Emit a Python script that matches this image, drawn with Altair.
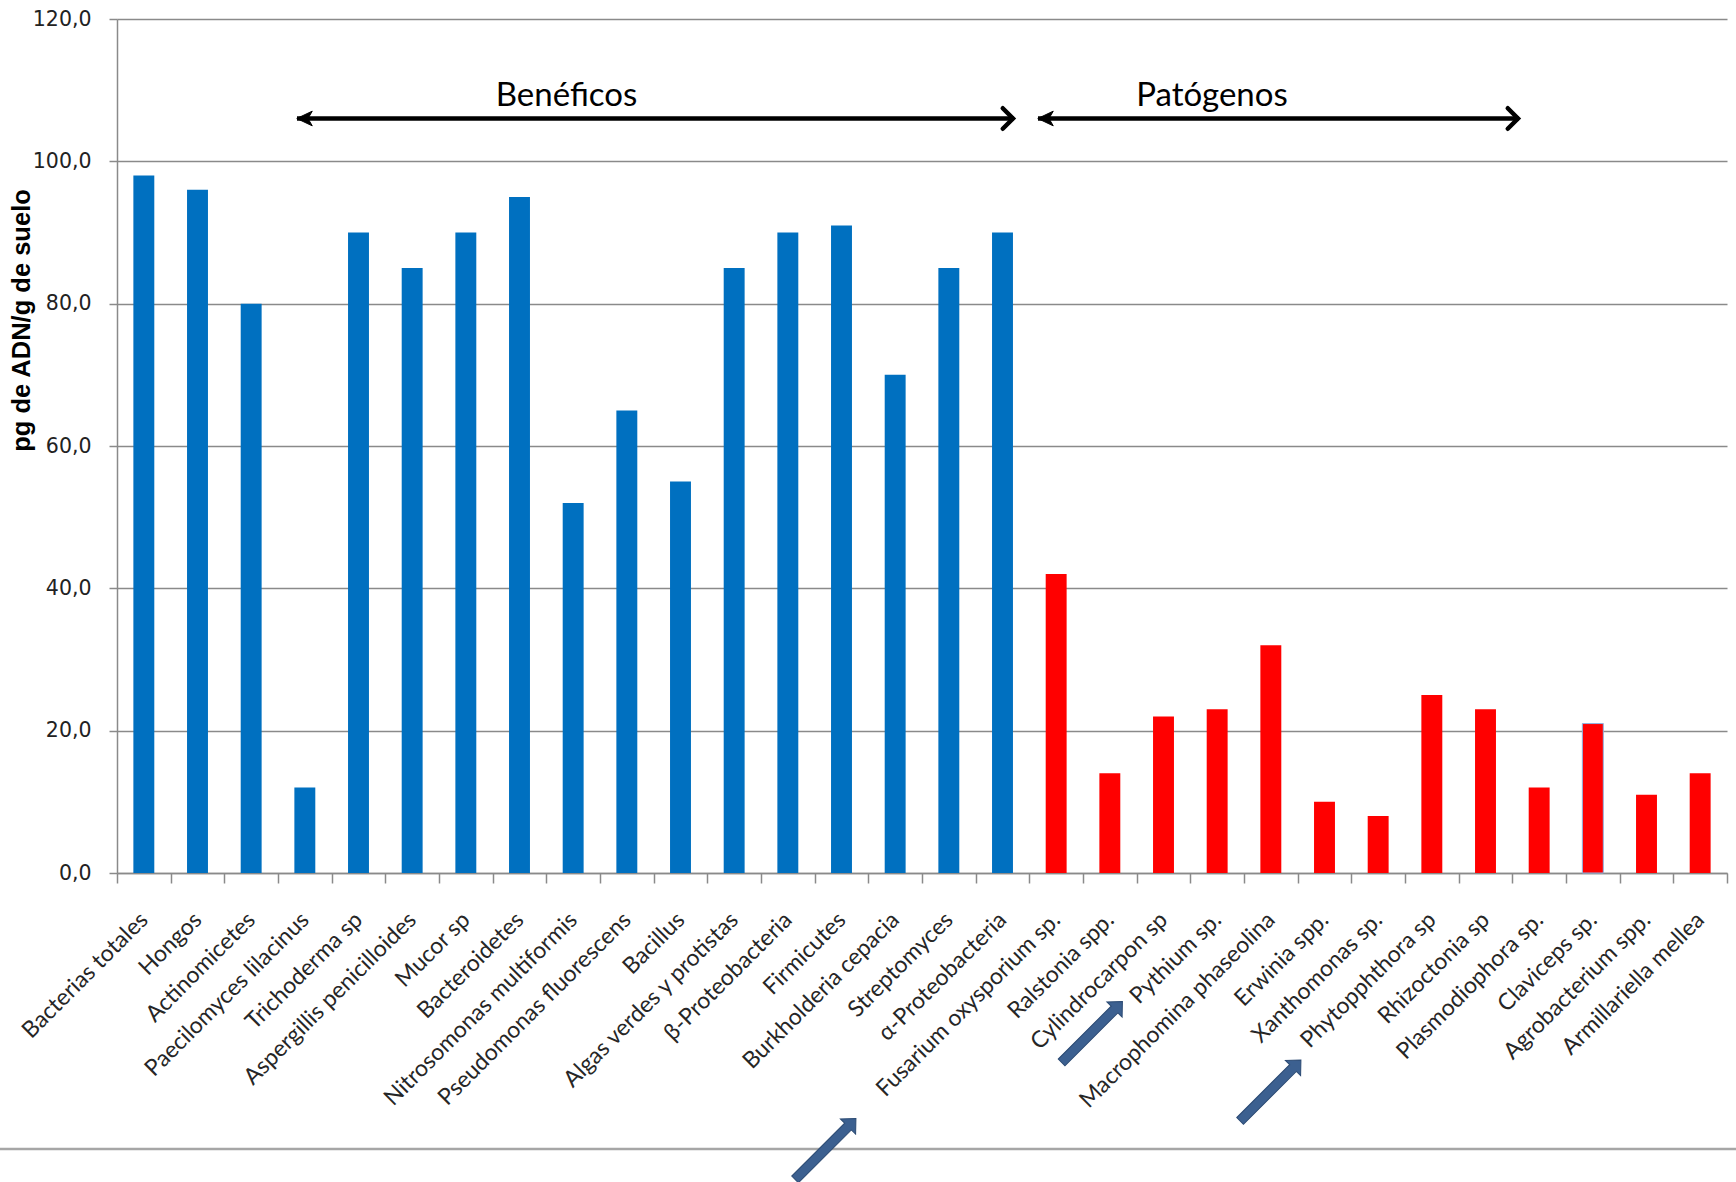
import altair as alt
import pandas as pd

# Organisms, in plotting order
beneficos = [
    "Bacterias totales", "Hongos", "Actinomicetes", "Paecilomyces lilacinus",
    "Trichoderma sp", "Aspergillis penicilloides", "Mucor sp", "Bacteroidetes",
    "Nitrosomonas multiformis", "Pseudomonas fluorescens", "Bacillus",
    "Algas verdes y protistas", "β-Proteobacteria", "Firmicutes",
    "Burkholderia cepacia", "Streptomyces", "α-Proteobacteria",
]
patogenos = [
    "Fusarium oxysporium sp.", "Ralstonia spp.", "Cylindrocarpon sp",
    "Pythium sp.", "Macrophomina phaseolina", "Erwinia spp.", "Xanthomonas sp.",
    "Phytopphthora sp", "Rhizoctonia sp", "Plasmodiophora sp.", "Claviceps sp.",
    "Agrobacterium spp.", "Armillariella mellea",
]

# pg de ADN por gramo de suelo
valores_beneficos = [98, 96, 80, 12, 90, 85, 90, 95, 52, 65, 55, 85, 90, 91, 70, 85, 90]
valores_patogenos = [42, 14, 22, 23, 32, 10, 8, 25, 23, 12, 21, 11, 14]

grupos = ["Benéficos", "Patógenos"]
colores = ["#0070C0", "#FF0000"]
y_ticks = [0, 20, 40, 60, 80, 100, 120]

categorias = beneficos + patogenos
df = pd.DataFrame({
    "organismo": categorias,
    "pg": valores_beneficos + valores_patogenos,
    "grupo": [grupos[0]] * len(beneficos) + [grupos[1]] * len(patogenos),
})

W, H = 1610, 854
GRID = "#8a8a8a"
one_row = pd.DataFrame({"k": [0]})

bars = alt.Chart(df).mark_bar(width=alt.RelativeBandSize(0.39)).encode(
    x=alt.X(
        "organismo:N", sort=categorias, title=None,
        scale=alt.Scale(paddingInner=0, paddingOuter=0),
        axis=alt.Axis(
            labelAngle=-45, labelAlign="right", labelBaseline="middle",
            labelFont="Lato", labelFontSize=23, labelColor="#262626",
            labelPadding=33, labelLimit=0, labelOverlap=False,
            tickBand="extent", tickSize=10, tickColor=GRID, tickWidth=1.5,
            domainColor=GRID, domainWidth=1.5, grid=False,
        ),
    ),
    y=alt.Y(
        "pg:Q",
        scale=alt.Scale(domain=[0, 120], nice=False),
        axis=alt.Axis(
            values=y_ticks,
            labelExpr="replace(format(datum.value, '.1f'), '.', ',')",
            labelFont="DejaVu Sans", labelFontSize=20.5, labelColor="#222222",
            labelPadding=18, tickSize=8, tickColor=GRID, tickWidth=1.5,
            domainColor=GRID, domainWidth=1.5,
            grid=True, gridColor=GRID, gridWidth=1.5,
            title="pg de ADN/g de suelo", titleFont="Liberation Sans",
            titleFontWeight="bold", titleFontSize=25.5, titleColor="#000000",
            titleAngle=-90, titleAlign="center", titleBaseline="alphabetic",
            titleX=-88, titleY=301,
        ),
    ),
    color=alt.Color("grupo:N", scale=alt.Scale(domain=grupos, range=colores), legend=None),
    stroke=alt.condition(
        alt.datum.organismo == "Claviceps sp.", alt.value("#8eb4e3"), alt.value(None)
    ),
    strokeWidth=alt.value(1),
)

# Double-headed brackets marking each group
def bracket(x_start, x_end, y):
    line = alt.Chart(one_row).mark_rule(color="black", strokeWidth=4.5).encode(
        x=alt.value(x_start), x2=alt.value(x_end), y=alt.value(y)
    )
    left_head = alt.Chart(one_row).mark_point(
        shape="M-1,0L1,-0.95L0.45,0L1,0.95Z", filled=True, fill="black",
        stroke="black", strokeWidth=1, size=240, opacity=1,
    ).encode(x=alt.value(x_start + 7.5), y=alt.value(y))
    right_head = alt.Chart(one_row).mark_point(
        shape="M-1,-1L0,0L-1,1", filled=False, stroke="black",
        strokeWidth=4.5, strokeCap="round", strokeJoin="miter", size=420, opacity=1,
    ).encode(x=alt.value(x_end - 1), y=alt.value(y))
    return [line, left_head, right_head]

labels = alt.Chart(pd.DataFrame({"t": grupos, "x": [449.5, 1095]})).mark_text(
    font="Lato", fontSize=33, color="black", baseline="alphabetic", align="center"
).encode(text="t:N", x=alt.X("x:Q", scale=None), y=alt.value(87))

# Separator rule below the category labels
separator = alt.Chart(one_row).mark_rule(color="#a6a6a6", strokeWidth=2.5).encode(
    x=alt.value(-117), x2=alt.value(1619), y=alt.value(1130)
)

# Block arrows pointing at selected pathogens
arrow_shape = "M0,-1L0.25,-0.74L0.11,-0.74L0.11,1L-0.11,1L-0.11,-0.74L-0.25,-0.74Z"
arrows = alt.Chart(pd.DataFrame({"ax": [708.5, 975, 1153.5], "ay": [1130, 1013, 1071.5]})).mark_point(
    shape=arrow_shape, filled=True, fill="#3C6090", stroke="#2B4A73",
    strokeWidth=1, size=7400, angle=45, opacity=1,
).encode(x=alt.X("ax:Q", scale=None), y=alt.Y("ay:Q", scale=None))

chart = alt.layer(
    bars, *bracket(180, 897, 99.5), *bracket(921, 1402, 99.5), labels, separator, arrows
).properties(
    width=W, height=H,
    padding={"left": 117, "top": 19, "right": 9, "bottom": 309},
    autosize=alt.AutoSizeParams(type="none"),
).configure_view(stroke=None)

chart.save("out.html", embed_options={"renderer": "svg", "actions": False})
